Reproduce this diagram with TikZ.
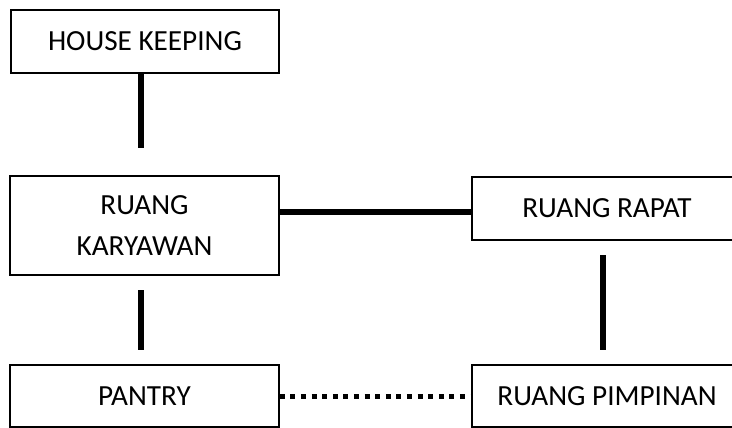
\documentclass[tikz,border=0pt]{standalone}
\usepackage{fontspec}
\setmainfont{Carlito}
\begin{document}
\begin{tikzpicture}[x=1pt,y=-1pt,
  room/.style={draw,line width=1.5pt,inner sep=0pt,align=center,
    font=\fontsize{29.2}{41}\selectfont},
  link/.style={line width=5.5pt},
  dotlink/.style={line width=5pt,dash pattern=on 5pt off 5.6pt}]
\useasboundingbox (0,0) rectangle (732,428);
\clip (0,0) rectangle (732,428);
\node[room,minimum width=268pt,minimum height=63pt] (hk) at (145,41.5) {HOUSE KEEPING};
\node[room,minimum width=269pt,minimum height=99pt] (kar) at (144.5,225.5) {RUANG\\KARYAWAN};
\node[room,minimum width=270pt,minimum height=63pt] (rap) at (607,208.5) {RUANG RAPAT};
\node[room,minimum width=269pt,minimum height=62pt] (pan) at (144.5,396) {PANTRY};
\node[room,minimum width=270pt,minimum height=62pt] (pim) at (607,396) {RUANG PIMPINAN};
\coordinate (a1) at (141,148);
\coordinate (a2) at (141,290);
\coordinate (a3) at (141,350);
\coordinate (b1) at (603,255);
\coordinate (b2) at (603,350);
\draw[link] (hk.south -| a1) -- (a1);
\draw[link] (kar.east |- 0,212) -- (rap.west |- 0,212);
\draw[link] (a2) -- (a3);
\draw[link] (b1) -- (b2);
\draw[dotlink] (pan.east) -- (pim.west);
\end{tikzpicture}
\end{document}
